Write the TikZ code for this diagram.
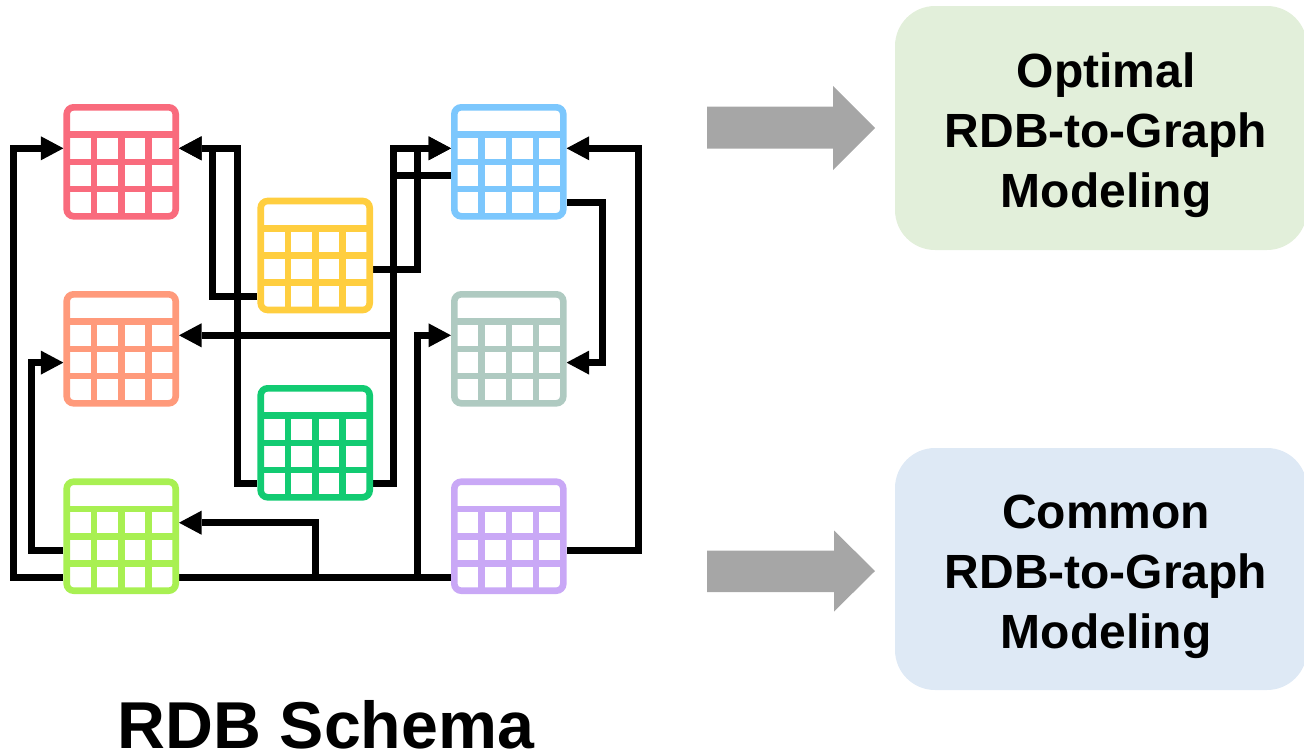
\documentclass[tikz,border=0pt]{standalone}
\usepackage{fontspec}
\setmainfont{Liberation Sans}
\usetikzlibrary{calc,arrows.meta}
\definecolor{cRed}{HTML}{F96B7D}
\definecolor{cOrange}{HTML}{FF9A7B}
\definecolor{cYellow}{HTML}{FFCE3F}
\definecolor{cBlue}{HTML}{7CC7FD}
\definecolor{cGrey}{HTML}{AFCAC1}
\definecolor{cGreen}{HTML}{12CB72}
\definecolor{cLime}{HTML}{A8F052}
\definecolor{cPurple}{HTML}{C9A8F6}
\definecolor{cBoxG}{HTML}{E2EFDA}
\definecolor{cBoxB}{HTML}{DEE9F5}
\definecolor{cArrow}{HTML}{A6A6A6}
\tikzset{
  x=1pt,y=-1pt,
  tablebox/.style={draw=#1,fill=white,line width=6.6pt,rounded corners=7pt,minimum width=109pt,minimum height=109pt,inner sep=0pt,outer sep=0pt},
  link/.style={draw=black,line width=7pt,miter limit=10},
  linkarrow/.style={link,-{Triangle[length=22.5pt,width=24pt,line width=0pt]}},
  bigarrow/.style={fill=cArrow,draw=none},
  textbox/.style={rounded corners=40pt,minimum width=412pt,inner sep=0pt,outer sep=0pt},
  boxtext/.style={font=\fontsize{48}{60}\selectfont\bfseries,align=center,inner sep=0pt},
  titletext/.style={font=\fontsize{66.3}{70}\selectfont\bfseries,inner sep=0pt}
}
\newcommand{\dbtable}[4]{%
  \node[tablebox=#4] (#1) at (#2+54.5,#3+54.5) {};
  \foreach \k in {27.25,54.5,81.75}{
    \draw[#4,line width=6.6pt,line cap=butt] (#2+\k,#3+27.25) -- (#2+\k,#3+109);
    \draw[#4,line width=6.6pt,line cap=butt] (#2,#3+\k) -- (#2+109,#3+\k);
  }
  \coordinate (#1-l1) at (#2-3.3,#3+41);
  \coordinate (#1-l2) at (#2-3.3,#3+68.3);
  \coordinate (#1-l3) at (#2-3.3,#3+95.6);
  \coordinate (#1-r1) at (#2+112.3,#3+41);
  \coordinate (#1-r2) at (#2+112.3,#3+68.3);
  \coordinate (#1-r3) at (#2+112.3,#3+95.6);
}
\begin{document}
\begin{tikzpicture}
\useasboundingbox (0,0) rectangle (1304,753);
\coordinate (xA) at (13.3,0);
\coordinate (xB) at (31.7,0);
\coordinate (xC) at (212.3,0);
\coordinate (xD) at (237.3,0);
\coordinate (xE) at (315,0);
\coordinate (xF) at (393.3,0);
\coordinate (xG) at (417,0);
\coordinate (xH) at (602.3,0);
\coordinate (xI) at (638.3,0);
\pgfdeclarelayer{tables}\pgfsetlayers{main,tables}
\begin{pgfonlayer}{tables}
\dbtable{red}{66.7}{107.3}{cRed}
\dbtable{orange}{66.7}{294.3}{cOrange}
\dbtable{lime}{66.7}{481.7}{cLime}
\dbtable{yellow}{260.7}{201}{cYellow}
\dbtable{green}{260.7}{388.3}{cGreen}
\dbtable{blue}{454.3}{107.3}{cBlue}
\dbtable{grey}{454.3}{294.3}{cGrey}
\dbtable{purple}{454.3}{481.7}{cPurple}
\end{pgfonlayer}
% links
\draw[link] (purple-l3) -- (lime-r3);
\draw[linkarrow] (lime-l3) -| (xA |- red-l1) -- (red-l1);
\draw[linkarrow] (lime-l2) -| (xB |- orange-l2) -- (orange-l2);
\draw[linkarrow] (yellow-l3) -| (xC |- red-r1) -- (red-r1);
\draw[linkarrow] (green-l3) -| (xD |- red-r1) -- (red-r1);
\draw[linkarrow] (blue-l2) -| (xF |- orange-r1) -- (orange-r1);
\draw[linkarrow] (green-r3) -| (xF |- blue-l1) -- (blue-l1);
\draw[linkarrow] (yellow-r2) -| (xG |- blue-l1) -- (blue-l1);
\draw[linkarrow] (blue-r3) -| (xH |- grey-r2) -- (grey-r2);
\draw[linkarrow] (purple-r2) -| (xI |- blue-r1) -- (blue-r1);
\draw[linkarrow] (purple-l3) -| (xG |- grey-l1) -- (grey-l1);
\draw[linkarrow] (purple-l3) -| (xE |- lime-r1) -- (lime-r1);
% block arrows
\fill[bigarrow] (707,106.7) -- (833,106.7) -- (833,86) -- (875,128) -- (833,170) -- (833,148.7) -- (707,148.7) -- cycle;
\fill[bigarrow] (707,550.5) -- (834,550.5) -- (834,530.5) -- (875,571) -- (834,611.5) -- (834,592) -- (707,592) -- cycle;
% text boxes
\begin{scope}
\clip (0,0) rectangle (1304,753);
\node[textbox,fill=cBoxG,minimum height=244pt,anchor=north west] (boxA) at (895,6) {};
\node[textbox,fill=cBoxB,minimum height=242pt,anchor=north west] (boxB) at (895,448) {};
\end{scope}
\node[boxtext] (textA) at (1106,135) {Optimal\\RDB-to-Graph\\Modeling};
\node[boxtext] (textB) at (1106,577) {Common\\RDB-to-Graph\\Modeling};
\node[titletext,anchor=base] (title) at (326,748) {RDB Schema};
\end{tikzpicture}
\end{document}
